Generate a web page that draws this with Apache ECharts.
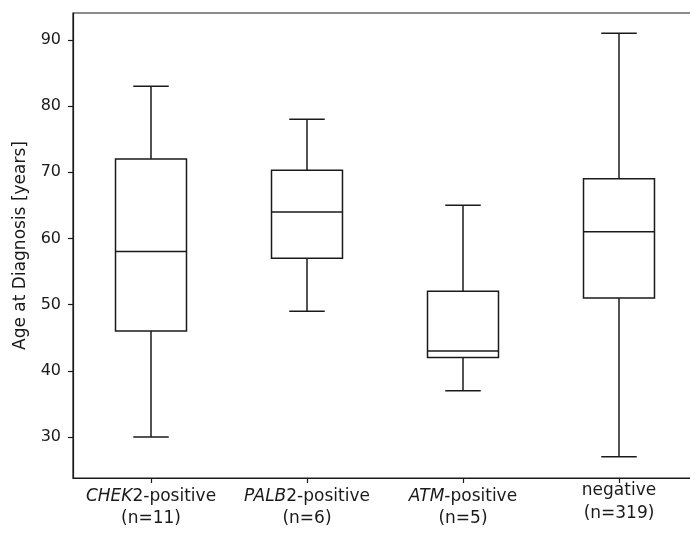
<!DOCTYPE html>
<html>
<head>
<meta charset="utf-8">
<script src="https://cdn.jsdelivr.net/npm/echarts@6/dist/echarts.min.js"></script>
<style>
  html, body { margin: 0; padding: 0; background: #fff; overflow: hidden; }
  #chart { width: 690px; height: 533px; }
</style>
</head>
<body>
<div id="chart"></div>
<script>
// groups on the x axis
const categories = ['CHEK2-positive', 'PALB2-positive', 'ATM-positive', 'negative'];
const italicParts = ['CHEK', 'PALB', 'ATM', ''];
const plainParts = ['2-positive', '2-positive', '-positive', 'negative'];
const counts = [11, 6, 5, 319];

// box stats: whisker low, q1, median, q3, whisker high
const whiskerLow = [30, 49, 37, 27];
const q1 = [46, 57, 42, 51];
const median = [58, 64, 43, 61];
const q3 = [72, 70.3, 52, 69];
const whiskerHigh = [83, 78, 65, 91];

const yTicks = [30, 40, 50, 60, 70, 80, 90];

const ink = '#1a1a1a';
const font = 'DejaVu Sans';
const fs = 17;

const boxData = categories.map(function (c, i) {
  return [i, whiskerLow[i], q1[i], median[i], q3[i], whiskerHigh[i]];
});

const chart = echarts.init(document.getElementById('chart'));

const option = {
  animation: false,
  backgroundColor: '#fff',
  grid: {
    left: 73,
    top: 13,
    width: 624,
    bottom: 55,
    outerBoundsMode: 'none',
    show: true,
    borderColor: ink,
    borderWidth: 1.2,
    backgroundColor: 'transparent'
  },
  xAxis: {
    type: 'category',
    data: categories,
    boundaryGap: true,
    axisLine: { show: true, lineStyle: { color: ink, width: 1.2 } },
    axisTick: { show: true, alignWithLabel: true, length: 5, lineStyle: { color: ink, width: 1.2 } },
    splitLine: { show: false },
    axisLabel: {
      margin: 5,
      interval: 0,
      color: ink,
      fontFamily: font,
      fontSize: fs,
      formatter: function (val, idx) {
        if (italicParts[idx]) {
          return '{i|' + italicParts[idx] + '}{a|' + plainParts[idx] + '}\n{b|(n=' + counts[idx] + ')}';
        }
        return '{c|' + plainParts[idx] + '}\n{d|(n=' + counts[idx] + ')}';
      },
      rich: {
        i: { fontStyle: 'italic', fontFamily: font, fontSize: fs, color: ink, lineHeight: 28 },
        a: { fontFamily: font, fontSize: fs, color: ink, lineHeight: 28 },
        b: { fontFamily: font, fontSize: fs, color: ink, lineHeight: 16 },
        c: { fontFamily: font, fontSize: fs, color: ink, lineHeight: 16 },
        d: { fontFamily: font, fontSize: fs, color: ink, lineHeight: 30 }
      }
    }
  },
  yAxis: {
    type: 'value',
    min: 23.8,
    max: 94.05,
    name: 'Age at Diagnosis [years]',
    nameLocation: 'middle',
    nameGap: 44,
    nameTextStyle: { color: ink, fontFamily: font, fontSize: fs },
    axisLine: { show: true, lineStyle: { color: ink, width: 1.2 } },
    axisTick: { show: true, length: 5, customValues: yTicks, lineStyle: { color: ink, width: 1.2 } },
    splitLine: { show: false },
    axisLabel: {
      customValues: yTicks,
      margin: 12,
      color: ink,
      fontFamily: font,
      fontSize: 16
    }
  },
  series: [
    {
      type: 'custom',
      data: boxData,
      encode: { x: 0, y: [1, 2, 3, 4, 5] },
      renderItem: function (params, api) {
        const idx = api.value(0);
        const pLow = api.coord([idx, api.value(1)]);
        const pQ1 = api.coord([idx, api.value(2)]);
        const pMed = api.coord([idx, api.value(3)]);
        const pQ3 = api.coord([idx, api.value(4)]);
        const pHigh = api.coord([idx, api.value(5)]);
        const band = api.size([1, 0])[0];
        const boxW = band * 0.455;
        const capW = boxW / 2;
        const cx = pQ1[0];
        const st = { stroke: ink, lineWidth: 1.5, fill: null };
        return {
          type: 'group',
          children: [
            { type: 'rect', shape: { x: cx - boxW / 2, y: pQ3[1], width: boxW, height: pQ1[1] - pQ3[1] }, style: st },
            { type: 'line', shape: { x1: cx - boxW / 2, y1: pMed[1], x2: cx + boxW / 2, y2: pMed[1] }, style: st },
            { type: 'line', shape: { x1: cx, y1: pQ3[1], x2: cx, y2: pHigh[1] }, style: st },
            { type: 'line', shape: { x1: cx, y1: pQ1[1], x2: cx, y2: pLow[1] }, style: st },
            { type: 'line', shape: { x1: cx - capW / 2, y1: pHigh[1], x2: cx + capW / 2, y2: pHigh[1] }, style: st },
            { type: 'line', shape: { x1: cx - capW / 2, y1: pLow[1], x2: cx + capW / 2, y2: pLow[1] }, style: st }
          ]
        };
      }
    }
  ]
};

chart.setOption(option);
window.onresize = chart.resize;
</script>
</body>
</html>
